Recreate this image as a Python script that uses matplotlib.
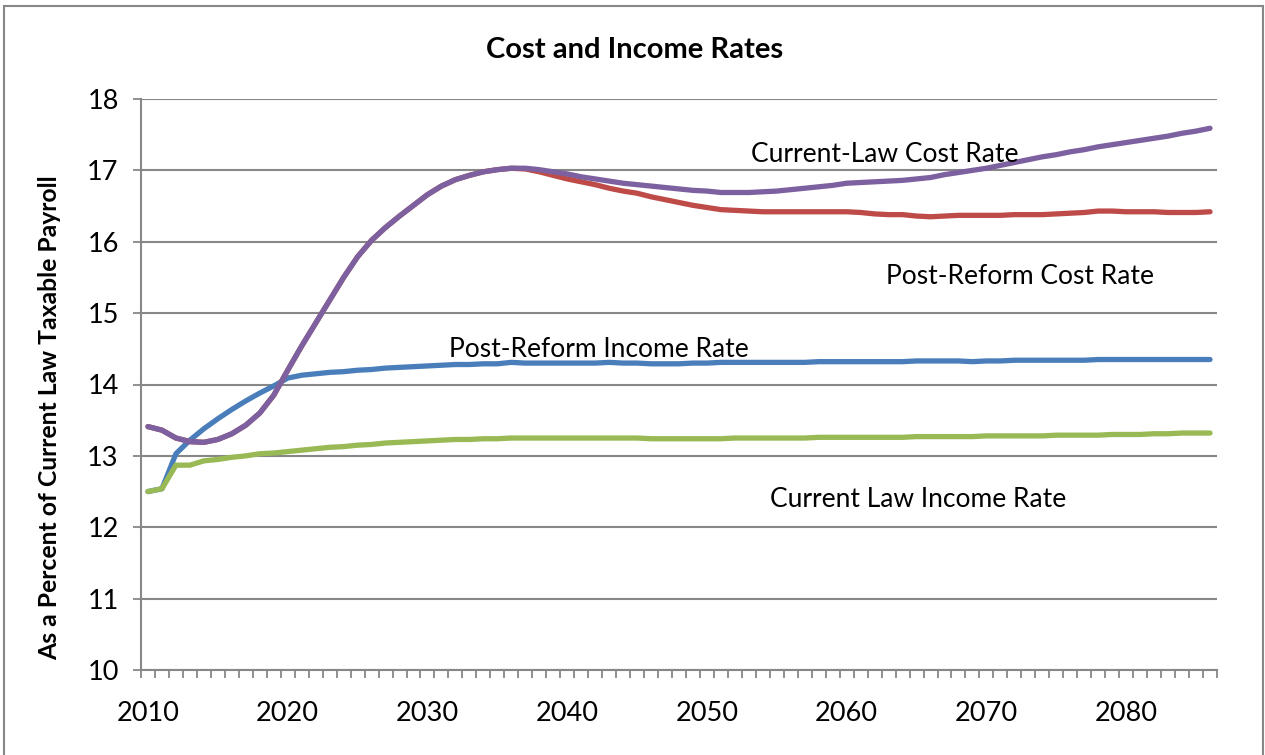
import matplotlib.pyplot as plt
import matplotlib.patches as mpatches
import numpy as np

years = list(range(2010, 2087))

post_reform_income = [
    12.50, 12.54, 13.03, 13.22, 13.38, 13.52, 13.65, 13.77, 13.88, 13.98,
    14.09, 14.13, 14.15, 14.17, 14.18, 14.20, 14.21, 14.23, 14.24, 14.25,
    14.26, 14.27, 14.28, 14.28, 14.29, 14.29, 14.31, 14.30, 14.30, 14.30,
    14.30, 14.30, 14.30, 14.31, 14.30, 14.30, 14.29, 14.29, 14.29, 14.30,
    14.30, 14.31, 14.31, 14.31, 14.31, 14.31, 14.31, 14.31, 14.32, 14.32,
    14.32, 14.32, 14.32, 14.32, 14.32, 14.33, 14.33, 14.33, 14.33, 14.32,
    14.33, 14.33, 14.34, 14.34, 14.34, 14.34, 14.34, 14.34, 14.35, 14.35,
    14.35, 14.35, 14.35, 14.35, 14.35, 14.35, 14.35,
]

post_reform_cost = [
    13.41, 13.36, 13.25, 13.20, 13.19, 13.23, 13.31, 13.43, 13.60, 13.85,
    14.20, 14.54, 14.86, 15.18, 15.50, 15.79, 16.02, 16.20, 16.36, 16.51,
    16.66, 16.78, 16.87, 16.93, 16.98, 17.01, 17.03, 17.02, 16.98, 16.93,
    16.88, 16.84, 16.80, 16.75, 16.71, 16.68, 16.63, 16.59, 16.55, 16.51,
    16.48, 16.45, 16.44, 16.43, 16.42, 16.42, 16.42, 16.42, 16.42, 16.42,
    16.42, 16.41, 16.39, 16.38, 16.38, 16.36, 16.35, 16.36, 16.37, 16.37,
    16.37, 16.37, 16.38, 16.38, 16.38, 16.39, 16.40, 16.41, 16.43, 16.43,
    16.42, 16.42, 16.42, 16.41, 16.41, 16.41, 16.42,
]

current_law_income = [
    12.50, 12.54, 12.87, 12.87, 12.93, 12.95, 12.98, 13.00, 13.03, 13.04,
    13.06, 13.08, 13.10, 13.12, 13.13, 13.15, 13.16, 13.18, 13.19, 13.20,
    13.21, 13.22, 13.23, 13.23, 13.24, 13.24, 13.25, 13.25, 13.25, 13.25,
    13.25, 13.25, 13.25, 13.25, 13.25, 13.25, 13.24, 13.24, 13.24, 13.24,
    13.24, 13.24, 13.25, 13.25, 13.25, 13.25, 13.25, 13.25, 13.26, 13.26,
    13.26, 13.26, 13.26, 13.26, 13.26, 13.27, 13.27, 13.27, 13.27, 13.27,
    13.28, 13.28, 13.28, 13.28, 13.28, 13.29, 13.29, 13.29, 13.29, 13.30,
    13.30, 13.30, 13.31, 13.31, 13.32, 13.32, 13.32,
]

current_law_cost = [
    13.41, 13.36, 13.25, 13.20, 13.19, 13.23, 13.31, 13.43, 13.60, 13.85,
    14.20, 14.54, 14.86, 15.18, 15.50, 15.79, 16.02, 16.20, 16.36, 16.51,
    16.66, 16.78, 16.87, 16.93, 16.98, 17.01, 17.03, 17.03, 17.01, 16.98,
    16.95, 16.91, 16.88, 16.85, 16.82, 16.80, 16.78, 16.76, 16.74, 16.72,
    16.71, 16.69, 16.69, 16.69, 16.70, 16.71, 16.73, 16.75, 16.77, 16.79,
    16.82, 16.83, 16.84, 16.85, 16.86, 16.88, 16.90, 16.94, 16.97, 17.00,
    17.03, 17.07, 17.11, 17.15, 17.19, 17.22, 17.26, 17.29, 17.33, 17.36,
    17.39, 17.42, 17.45, 17.48, 17.52, 17.55, 17.59,
]

tick_years = [2010, 2020, 2030, 2040, 2050, 2060, 2070, 2080]

plt.rcParams['font.family'] = ['Lato', 'DejaVu Sans']
grey = '#878787'

fig = plt.figure(figsize=(12.65, 7.55), dpi=100)
ax = fig.add_axes([141 / 1265, 85 / 755, 1076 / 1265, 571 / 755])

# outer chart border (runs off the bottom of the picture)
fig.patches.append(mpatches.Rectangle((3.5 / 1265, -0.05), 1259 / 1265, 1.05 - 6.5 / 755,
                                      transform=fig.transFigure, fill=False,
                                      edgecolor=grey, linewidth=1.5))

ax.plot(years, post_reform_income, color='#4A7EBB', lw=3.8, solid_capstyle='round', zorder=3)
ax.plot(years, post_reform_cost, color='#BE4B48', lw=3.8, solid_capstyle='round', zorder=3)
ax.plot(years, current_law_income, color='#98B954', lw=3.8, solid_capstyle='round', zorder=3)
ax.plot(years, current_law_cost, color='#7D60A0', lw=3.8, solid_capstyle='round', zorder=3)

ax.set_xlim(2009.5, 2086.5)
ax.set_ylim(10, 18)
ax.set_yticks(range(10, 19))
ax.grid(axis='y', color=grey, lw=1.5)
ax.set_axisbelow(True)

ax.set_xticks(tick_years)
ax.set_xticks(np.arange(2009.5, 2087, 1), minor=True)
ax.tick_params(axis='x', which='major', length=0, pad=22, labelsize=19.5)
ax.tick_params(axis='x', which='minor', length=5.5, width=1.3, color=grey, direction='out')
ax.tick_params(axis='y', length=6, width=1.3, color=grey, pad=10, labelsize=19.5)

for s in ['top', 'right']:
    ax.spines[s].set_visible(False)
for s in ['left', 'bottom']:
    ax.spines[s].set_color(grey)
    ax.spines[s].set_linewidth(1.5)

fig.text(635 / 1265, 1 - 58 / 755, 'Cost and Income Rates', ha='center', va='baseline',
         fontsize=21, fontweight='bold')
fig.text(50 / 1265, 1 - 418 / 755, 'As a Percent of Current Law Taxable Payroll',
         rotation=90, ha='center', va='center', fontsize=17.8, fontweight='bold')

ax.text(2062.75, 17.117, 'Current-Law Cost Rate', ha='center', va='baseline', fontsize=19)
ax.text(2072.4, 15.41, 'Post-Reform Cost Rate', ha='center', va='baseline', fontsize=19)
ax.text(2042.3, 14.385, 'Post-Reform Income Rate', ha='center', va='baseline', fontsize=19)
ax.text(2065.1, 12.28, 'Current Law Income Rate', ha='center', va='baseline', fontsize=19)

fig.savefig('out.png', dpi=100)
